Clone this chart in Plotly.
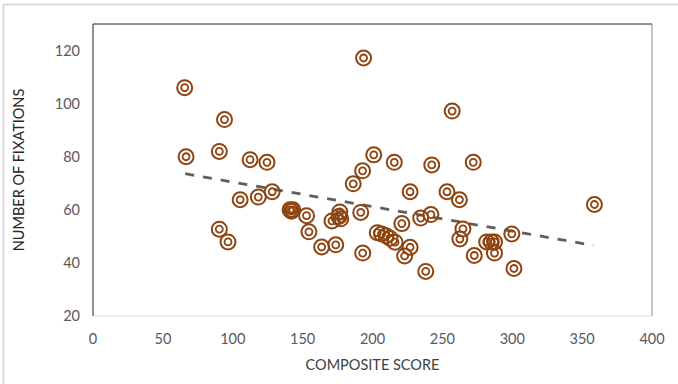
import plotly.graph_objects as go

composite_score = [65.6, 66.6, 94.1, 90.4, 90.4, 96.6, 105.3, 112.4, 118.3, 124.5,
                   128.2, 141.0, 142.0, 143.0, 152.8, 154.5, 163.6, 173.7, 171.0, 176.6,
                   177.3, 176.0, 186.2, 192.9, 193.6, 191.6, 193.0, 200.9, 203.4, 206.5,
                   209.7, 212.5, 216.1, 215.6, 221.0, 223.0, 226.9, 226.9, 234.5, 241.8,
                   238.1, 242.4, 253.3, 257.0, 262.2, 264.7, 262.5, 272.1, 272.8, 281.7,
                   285.0, 287.3, 287.3, 299.7, 301.2, 358.8]
fixations = [106.0, 80.0, 94.0, 82.0, 52.7, 47.9, 63.8, 78.9, 64.8, 77.9,
             66.8, 60.0, 59.5, 60.0, 57.8, 51.7, 46.0, 46.8, 55.8, 59.2,
             56.6, 57.5, 69.8, 74.7, 117.2, 59.0, 43.7, 80.7, 51.4, 50.9,
             50.2, 49.3, 47.8, 77.9, 54.8, 42.6, 45.9, 66.8, 56.9, 58.2,
             36.8, 76.9, 66.8, 97.2, 63.8, 52.8, 49.0, 77.9, 42.8, 47.9,
             47.9, 47.9, 43.7, 50.9, 37.9, 62.0]

trend_x = [66, 358]
trend_y = [73.6, 46.6]

x_ticks = [0, 50, 100, 150, 200, 250, 300, 350, 400]
y_ticks = [20, 40, 60, 80, 100, 120]

brown = "#8E4410"
font_family = "Lato, 'Open Sans', sans-serif"

fig = go.Figure()
fig.add_trace(go.Scatter(
    x=trend_x, y=trend_y, mode="lines",
    line=dict(color="#5f5f5f", width=2.8, dash="dash"),
    hoverinfo="skip", showlegend=False))
fig.add_trace(go.Scatter(
    x=composite_score, y=fixations, mode="markers",
    marker=dict(symbol="circle-open", size=15, color=brown, line=dict(width=2, color=brown)),
    showlegend=False))
fig.add_trace(go.Scatter(
    x=composite_score, y=fixations, mode="markers",
    marker=dict(symbol="circle-open", size=7, color=brown, line=dict(width=1.8, color=brown)),
    showlegend=False, hoverinfo="skip"))

pw, ph = 559.0, 292.0
def px(p):
    return (p - 93) / pw
def py(p):
    return (316 - p) / ph

shapes = [
    # plot frame
    dict(type="line", xref="paper", yref="paper", x0=0, x1=0, y0=0, y1=1, line=dict(color="#222222", width=1)),
    dict(type="line", xref="paper", yref="paper", x0=0, x1=1, y0=1, y1=1, line=dict(color="#222222", width=1)),
    dict(type="line", xref="paper", yref="paper", x0=1, x1=1, y0=0, y1=1, line=dict(color="#8c8c8c", width=1)),
    dict(type="line", xref="paper", yref="paper", x0=0, x1=1, y0=0, y1=0, line=dict(color="#d9d9d9", width=1)),
    # outer chart border
    dict(type="line", xref="paper", yref="paper", x0=px(3.5), x1=px(3.5), y0=py(4.5), y1=py(390),
         line=dict(color="#d9d9d9", width=2)),
    dict(type="line", xref="paper", yref="paper", x0=px(3.5), x1=px(690), y0=py(4.5), y1=py(4.5),
         line=dict(color="#d9d9d9", width=2)),
]

fig.update_layout(
    width=678, height=384,
    margin=dict(l=93, r=26, t=24, b=68),
    paper_bgcolor="white", plot_bgcolor="white",
    font=dict(family=font_family, color="#595959", size=14),
    shapes=shapes,
    xaxis=dict(range=[0, 400], tickvals=x_ticks, showgrid=False, zeroline=False,
               showline=False, ticks="", ticklabelstandoff=12,
               tickfont=dict(size=14.5, color="#595959"),
               title=dict(text="COMPOSITE SCORE", font=dict(size=14.5, color="#404040"), standoff=14)),
    yaxis=dict(range=[20, 130], tickvals=y_ticks, showgrid=False, zeroline=False,
               showline=False, ticks="", ticklabelstandoff=12,
               tickfont=dict(size=14.5, color="#595959"),
               title=dict(text="NUMBER OF FIXATIONS", font=dict(size=14.5, color="#262626"), standoff=26)),
)

fig.write_html("out.html")
